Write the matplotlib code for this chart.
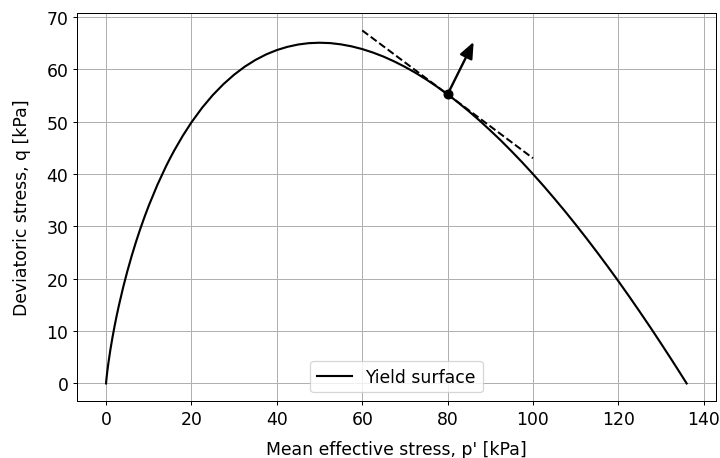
import matplotlib
matplotlib.use("Agg")
import matplotlib.pyplot as plt

# Yield surface (mean effective stress p' vs deviatoric stress q), kPa
p_vals = [0, 0.05, 0.1, 0.25, 0.5, 1, 1.5, 2, 2.5, 3, 4, 5, 6, 7, 8, 9, 10,
          12, 14, 15, 16, 18, 20, 22.5, 25, 27.5, 30, 32.5, 35, 37.5, 40,
          42.5, 45, 47.5, 50, 52.5, 55, 57.5, 60, 62.5, 65, 67.5, 70, 72.5,
          75, 77.5, 80, 82.5, 85, 87.5, 90, 92.5, 95, 97.5, 100, 102.5, 105,
          107.5, 110, 112.5, 115, 117.5, 120, 122.5, 125, 127.5, 130, 132.5,
          134.5, 136]
q_vals = [0, 0.51, 0.94, 2.05, 3.64, 6.39, 8.79, 10.97, 12.99, 14.87, 18.34,
          21.47, 24.34, 27.00, 29.47, 31.77, 33.93, 37.87, 41.38, 42.99, 44.51,
          47.32, 49.84, 52.63, 55.05, 57.14, 58.94, 60.48, 61.76, 62.81, 63.64,
          64.26, 64.70, 64.96, 65.04, 64.97, 64.73, 64.35, 63.83, 63.17, 62.39,
          61.47, 60.44, 59.29, 58.03, 56.66, 55.19, 53.61, 51.94, 50.17, 48.30,
          46.36, 44.31, 42.19, 39.97, 37.69, 35.31, 32.87, 30.34, 27.74, 25.07,
          22.33, 19.53, 16.65, 13.70, 10.70, 7.62, 4.49, 1.94, 0]

# current stress point, tangent line and outward normal
point = (80, 55.19)
tangent_p = [60, 100]
tangent_q = [67.39, 42.99]
normal_vec = (6.1, 10.0)

plt.rcParams['font.size'] = 13.8

fig, ax = plt.subplots(figsize=(8, 5.1), dpi=90)
ax.plot(p_vals, q_vals, color='black', linewidth=1.7, label='Yield surface')
ax.plot(tangent_p, tangent_q, color='black', linestyle='--', linewidth=1.6)
ax.plot(point[0], point[1], 'o', color='black', markersize=7)
ax.annotate('', xy=(point[0] + normal_vec[0], point[1] + normal_vec[1]),
            xytext=point,
            arrowprops=dict(arrowstyle='-|>,head_length=0.6,head_width=0.25',
                            color='black', lw=1.9, mutation_scale=18,
                            shrinkA=0, shrinkB=0))

ax.set_xlabel("Mean effective stress, p' [kPa]", labelpad=10)
ax.set_ylabel("Deviatoric stress, q [kPa]", labelpad=12)
ax.grid(True, color='#b0b0b0', linewidth=0.8)
ax.legend(loc='lower center')
fig.subplots_adjust(left=0.107, right=0.994, top=0.97, bottom=0.124)
fig.savefig('out.png', dpi=90)
